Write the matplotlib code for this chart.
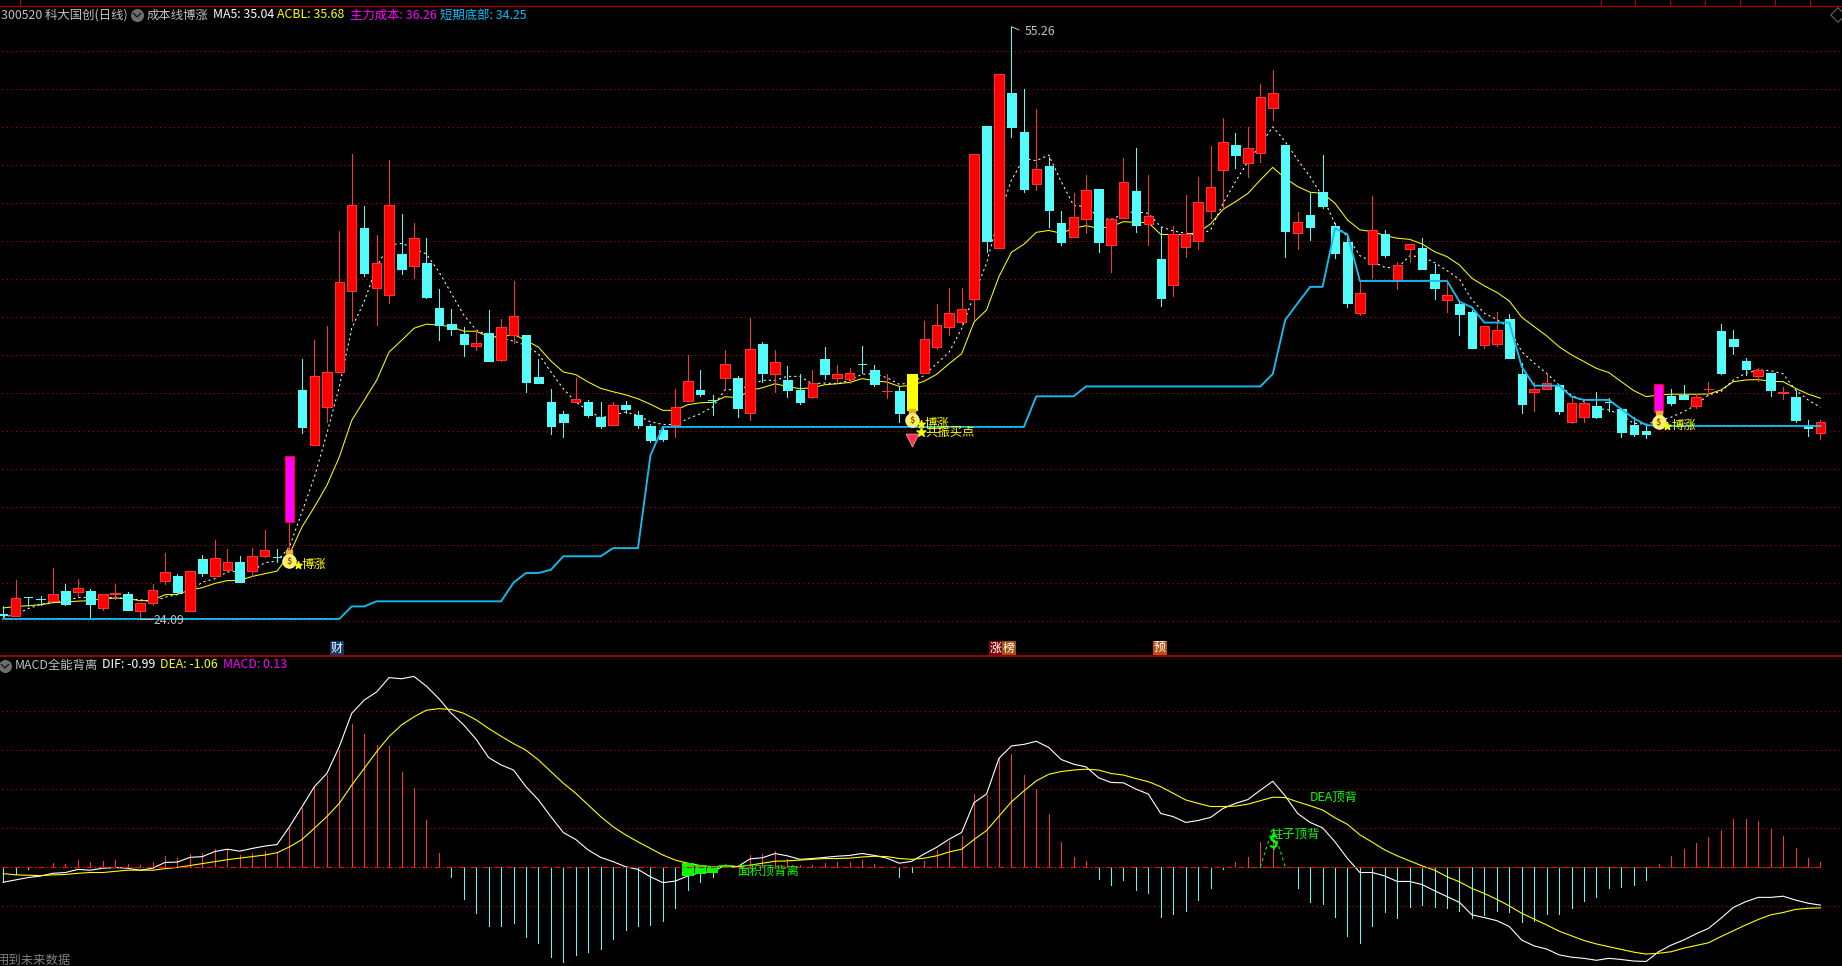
import matplotlib
matplotlib.use('Agg')
import matplotlib.pyplot as plt

plt.rcParams['font.family'] = ['Noto Sans CJK SC', 'DejaVu Sans']

W, H = 1842, 966
PX = 72 / 100.0

opens = [24.35,24.24,25.24,25.14,25.03,25.54,25.49,25.54,24.67,25.39,
25.42,24.51,24.93,26.09,26.37,24.51,27.26,26.35,26.65,27.10,
26.61,27.40,27.34,29.19,36.16,33.25,35.25,37.09,41.37,44.65,
41.53,41.16,43.30,42.68,42.81,40.44,39.60,39.10,38.46,39.14,
37.70,39.02,39.02,36.81,35.53,34.89,35.49,35.53,34.70,34.30,
35.33,34.81,34.23,34.02,34.30,35.56,36.12,35.60,36.77,36.79,
34.93,38.54,36.98,36.68,36.12,35.77,37.79,36.77,36.72,37.53,
37.18,36.10,36.07,35.07,37.04,38.40,39.46,39.72,40.91,50.04,
43.63,51.75,49.70,47.00,47.93,44.91,44.21,45.16,46.72,43.79,
45.21,46.60,44.89,43.02,41.68,43.68,44.00,45.58,47.74,49.04,
48.11,48.64,51.00,49.04,44.41,45.35,46.55,44.78,43.92,40.21,
42.79,44.35,41.88,43.56,43.62,42.23,40.90,40.67,40.23,38.53,
38.56,39.88,36.99,36.06,36.21,36.41,34.48,34.74,35.30,35.53,
35.13,34.28,33.99,35.00,35.83,35.86,35.32,36.20,39.25,38.81,
37.67,36.90,37.02,36.01,35.78,34.30,33.90]

closes = [24.30,25.21,25.24,25.14,25.42,24.86,25.74,24.86,25.42,25.47,
24.56,24.95,25.63,26.58,25.49,26.63,26.49,27.32,27.10,26.02,
27.42,27.74,27.34,32.68,34.19,36.89,37.10,41.81,45.86,42.30,
42.81,45.86,42.53,44.12,41.05,39.54,39.33,38.54,38.61,37.65,
39.44,40.02,36.56,36.51,34.25,34.46,35.68,34.82,34.23,35.37,
35.12,34.30,33.49,33.56,35.26,36.63,35.91,35.60,37.53,35.19,
38.32,37.04,37.63,36.14,35.51,36.53,36.98,37.00,37.05,37.53,
36.44,36.11,34.93,36.97,38.84,39.58,40.21,40.42,48.54,44.00,
52.75,50.00,46.74,47.75,45.61,43.93,45.23,46.65,43.95,45.12,
47.11,44.84,45.28,41.00,44.33,44.33,46.02,46.81,49.18,48.53,
48.86,51.55,51.76,44.51,44.97,44.72,45.83,43.35,40.72,41.23,
44.55,43.25,42.71,43.81,42.53,41.51,41.13,40.14,38.35,39.49,
39.28,37.85,35.42,36.20,36.50,35.06,35.44,35.44,34.72,35.53,
33.93,33.83,33.85,36.46,35.46,35.67,35.76,36.21,37.04,38.48,
37.27,37.18,36.14,36.02,34.55,34.14,34.44]

highs = [24.75,26.16,25.26,25.32,26.79,25.95,26.21,25.68,25.42,25.91,
25.53,24.95,25.91,27.58,26.47,26.63,27.44,28.26,27.75,27.39,
27.84,28.75,27.79,32.68,37.79,38.75,39.51,44.51,48.56,45.82,
44.30,48.25,45.40,44.91,44.12,41.44,40.40,39.47,39.28,40.35,
39.86,41.88,39.02,37.79,36.21,35.02,36.79,35.63,35.51,35.49,
35.54,35.02,34.33,34.19,36.21,37.97,37.18,35.86,38.26,36.90,
39.95,38.68,38.23,37.39,37.00,37.18,38.39,37.44,37.32,38.47,
37.44,36.97,36.33,36.97,39.75,40.65,41.49,41.49,48.54,50.04,
52.75,55.26,52.00,50.91,48.39,45.56,46.49,47.46,46.72,45.18,
48.33,48.86,47.46,44.74,44.77,46.40,47.33,48.98,50.46,49.65,
50.00,52.25,52.98,49.04,45.49,46.53,48.51,44.95,44.34,41.85,
46.35,44.57,42.86,43.81,44.13,42.76,41.76,40.88,40.35,39.49,
40.27,40.13,37.55,36.58,37.06,36.41,35.71,35.65,36.06,35.71,
35.18,34.71,34.30,36.46,36.20,36.41,35.93,36.58,39.62,39.30,
37.83,37.28,37.02,36.28,36.14,34.56,34.56]

lows = [24.19,24.24,24.79,24.82,25.03,24.82,25.24,24.19,24.58,25.16,
24.56,24.09,24.81,25.95,25.42,24.51,26.35,26.35,26.61,26.02,
26.33,27.35,27.09,27.53,33.88,33.25,34.46,37.09,39.79,42.16,
39.56,40.74,42.25,42.05,40.96,38.75,39.02,37.91,38.23,37.65,
37.67,38.61,36.03,36.51,33.81,33.67,35.49,34.72,34.14,34.30,
34.93,34.12,33.39,33.46,33.67,35.56,35.81,34.81,36.25,34.72,
34.54,36.56,36.02,35.77,35.40,35.72,36.70,36.56,36.53,37.04,
36.33,35.72,34.46,34.81,37.04,38.28,39.02,39.54,39.82,43.42,
43.63,49.47,46.58,46.67,44.74,43.77,44.21,44.42,43.42,42.37,
45.21,44.47,43.77,40.58,41.09,43.16,43.58,45.18,45.70,47.84,
47.35,48.16,50.35,43.16,43.58,44.04,45.74,43.09,40.53,40.09,
42.02,43.16,41.46,42.90,42.53,40.93,40.25,39.04,38.35,38.37,
38.46,37.85,34.95,35.06,36.21,34.86,34.42,34.48,34.67,35.06,
33.69,33.74,33.62,34.74,35.37,35.67,35.18,35.88,36.99,38.04,
36.95,36.62,35.85,35.65,34.46,33.72,33.58]

ma5 = [24.19,24.33,24.63,24.86,24.98,25.07,25.21,25.24,25.19,25.24,
25.12,25.11,24.98,25.24,25.37,25.56,26.03,26.21,26.56,26.61,
26.60,27.05,27.14,27.88,29.72,31.56,33.84,36.30,39.39,40.79,
42.63,43.77,43.86,43.60,43.30,42.37,41.23,40.09,39.30,39.02,
38.84,38.72,38.49,38.05,37.09,36.21,35.51,35.07,34.68,34.81,
34.98,34.81,34.46,34.33,34.33,34.63,34.89,35.25,36.16,36.16,
36.39,36.65,36.65,36.86,36.86,36.47,36.51,36.47,36.65,36.97,
37.00,36.79,36.44,36.53,36.91,37.53,38.14,39.37,41.14,42.81,
45.26,47.19,48.33,48.21,48.51,47.11,45.86,45.79,45.26,45.09,
45.44,45.53,45.44,44.74,44.51,44.39,44.30,44.56,45.96,47.11,
48.16,49.04,50.00,49.21,48.25,47.37,46.32,44.88,44.21,43.21,
42.90,42.60,42.55,43.20,43.16,42.85,42.42,41.97,40.88,40.18,
39.86,39.39,38.16,37.55,37.02,36.41,35.88,35.53,35.18,35.09,
34.83,34.39,34.34,34.53,34.71,35.00,35.35,35.88,36.06,36.67,
37.02,37.20,37.16,36.99,36.14,35.62,35.23]

acbl = [24.67,24.75,24.79,24.84,24.95,24.98,25.03,25.05,25.16,25.19,
25.17,25.05,25.07,25.37,25.39,25.61,25.74,25.96,26.11,26.12,
26.33,26.47,26.61,27.49,28.93,29.98,31.12,32.61,34.54,35.60,
36.65,38.14,38.75,39.39,39.61,39.56,39.47,39.24,39.23,38.96,
38.93,39.07,38.75,38.40,37.67,37.09,36.95,36.56,36.23,36.05,
35.89,35.68,35.39,35.07,35.07,35.37,35.47,35.49,35.79,35.74,
36.12,36.26,36.47,36.33,36.21,36.26,36.42,36.47,36.54,36.74,
36.63,36.56,36.33,36.39,36.61,36.97,37.53,38.05,39.72,40.35,
42.11,43.39,43.81,44.44,44.54,44.39,44.65,44.79,44.65,44.74,
45.00,44.96,44.95,44.33,44.32,44.33,44.44,44.88,45.65,46.05,
46.49,47.20,47.86,47.28,46.85,46.55,46.49,45.97,45.09,44.57,
44.48,44.27,44.13,44.07,43.83,43.42,43.16,42.72,42.02,41.62,
41.28,40.83,39.97,39.48,38.99,38.42,37.99,37.64,37.28,37.06,
36.58,36.11,35.79,35.88,35.92,35.92,35.92,35.93,36.14,36.58,
36.67,36.69,36.60,36.58,36.23,35.93,35.71]

short_bottom = [24.09,24.09,24.09,24.09,24.09,24.09,24.09,24.09,24.09,24.09,
24.09,24.09,24.09,24.09,24.09,24.09,24.09,24.09,24.09,24.09,
24.09,24.09,24.09,24.09,24.09,24.09,24.09,24.09,24.75,24.75,
25.02,25.02,25.02,25.02,25.02,25.02,25.02,25.02,25.02,25.02,
25.02,26.00,26.51,26.51,26.68,27.39,27.39,27.39,27.39,27.82,
27.82,27.82,32.70,34.20,34.20,34.20,34.20,34.20,34.20,34.20,
34.20,34.20,34.20,34.20,34.20,34.20,34.20,34.20,34.20,34.20,
34.20,34.20,34.20,34.20,34.20,34.20,34.20,34.20,34.20,34.20,
34.20,34.20,34.20,35.81,35.81,35.81,35.81,36.33,36.33,36.33,
36.33,36.33,36.33,36.33,36.33,36.33,36.33,36.33,36.33,36.33,
36.33,36.33,36.99,39.83,40.71,41.57,41.57,44.65,44.34,41.88,
41.88,41.88,41.88,41.88,41.88,41.88,41.88,40.79,40.49,39.69,
39.69,39.69,37.37,36.37,36.37,36.37,35.79,35.62,35.62,35.62,
35.13,34.65,34.30,34.25,34.25,34.25,34.25,34.25,34.25,34.25,
34.25,34.25,34.25,34.25,34.25,34.25,34.25]

dif = [-0.40,-0.34,-0.28,-0.24,-0.17,-0.15,-0.07,-0.09,-0.04,-0.02,
-0.04,-0.09,-0.04,0.11,0.12,0.24,0.26,0.39,0.45,0.40,
0.47,0.53,0.57,1.03,1.54,2.06,2.40,3.09,3.95,4.29,
4.50,4.87,4.84,4.90,4.65,4.33,3.95,3.65,3.28,2.81,
2.62,2.49,2.06,1.72,1.29,0.88,0.70,0.43,0.24,0.13,
0.00,-0.07,-0.26,-0.41,-0.37,-0.24,-0.15,-0.13,0.04,0.00,
0.20,0.23,0.34,0.28,0.19,0.21,0.24,0.27,0.29,0.34,
0.29,0.22,0.09,0.14,0.33,0.50,0.71,0.88,1.65,1.87,
2.79,3.11,3.15,3.23,3.07,2.76,2.64,2.57,2.29,2.17,
2.16,2.00,1.87,1.37,1.29,1.14,1.19,1.27,1.50,1.63,
1.73,1.97,2.20,1.82,1.37,1.14,1.00,0.64,0.21,-0.15,
-0.15,-0.24,-0.38,-0.38,-0.46,-0.62,-0.77,-0.92,-1.24,-1.31,
-1.39,-1.54,-1.89,-2.04,-2.12,-2.27,-2.33,-2.36,-2.41,-2.36,
-2.39,-2.43,-2.44,-2.19,-2.02,-1.89,-1.73,-1.59,-1.33,-1.05,
-0.90,-0.79,-0.79,-0.76,-0.86,-0.94,-0.99]

dea = [-0.18,-0.21,-0.22,-0.23,-0.21,-0.20,-0.17,-0.15,-0.15,-0.12,
-0.09,-0.09,-0.09,-0.05,-0.02,0.03,0.08,0.13,0.18,0.22,
0.26,0.30,0.36,0.51,0.70,0.99,1.29,1.63,2.10,2.53,
2.96,3.35,3.65,3.86,4.03,4.07,4.05,3.95,3.78,3.56,
3.36,3.17,3.00,2.75,2.45,2.15,1.89,1.59,1.29,1.03,
0.82,0.64,0.47,0.30,0.17,0.09,0.03,0.00,0.00,0.00,
0.04,0.09,0.14,0.15,0.17,0.19,0.21,0.21,0.22,0.25,
0.27,0.26,0.21,0.19,0.22,0.28,0.38,0.45,0.70,0.93,
1.30,1.67,1.95,2.21,2.38,2.45,2.49,2.51,2.49,2.40,
2.36,2.27,2.19,2.06,1.89,1.72,1.63,1.55,1.55,1.56,
1.61,1.70,1.79,1.78,1.67,1.57,1.46,1.26,1.09,0.82,
0.63,0.43,0.28,0.15,0.02,-0.09,-0.26,-0.39,-0.56,-0.69,
-0.84,-1.01,-1.20,-1.35,-1.50,-1.66,-1.78,-1.90,-1.99,-2.06,
-2.13,-2.20,-2.25,-2.23,-2.19,-2.10,-2.03,-1.96,-1.80,-1.65,
-1.50,-1.36,-1.24,-1.18,-1.10,-1.07,-1.06]

macd = [-0.40,-0.19,-0.05,0.00,0.09,0.07,0.17,0.12,0.15,0.17,
0.07,0.04,0.12,0.27,0.23,0.33,0.36,0.45,0.45,0.30,
0.34,0.40,0.36,1.00,1.50,2.06,2.36,3.00,3.67,3.43,
3.13,3.11,2.44,2.02,1.20,0.36,-0.26,-0.82,-1.18,-1.54,
-1.54,-1.44,-1.80,-1.97,-2.33,-2.45,-2.27,-2.19,-2.12,-1.86,
-1.63,-1.53,-1.50,-1.39,-1.06,-0.60,-0.39,-0.26,0.02,0.00,
0.30,0.33,0.40,0.21,0.04,0.04,0.09,0.12,0.12,0.17,
0.07,-0.02,-0.26,-0.13,0.15,0.43,0.67,0.79,1.87,1.84,
2.81,2.90,2.36,1.99,1.36,0.63,0.25,0.15,-0.32,-0.47,
-0.34,-0.60,-0.67,-1.29,-1.22,-1.14,-0.86,-0.55,-0.05,0.12,
0.25,0.63,0.64,0.00,-0.55,-0.91,-0.96,-1.29,-1.78,-1.96,
-1.54,-1.16,-1.32,-1.03,-0.99,-1.04,-1.06,-1.13,-1.33,-1.24,
-1.13,-1.17,-1.42,-1.39,-1.22,-1.22,-1.06,-0.88,-0.77,-0.55,
-0.52,-0.47,-0.34,0.07,0.27,0.45,0.62,0.76,0.94,1.23,
1.23,1.18,0.97,0.79,0.48,0.22,0.13]

price_grid = [54,52,50,48,46,44,42,40,38,36,34,32,30,28,26,24]
macd_grid = [4,3,2,1,-1]
magenta_days = [23,133]
yellow_days = [73]
bag_days = [23,73,133]
bag_prices = [27.14,34.56,34.46]

# green area-divergence blocks in the MACD pane
green_days = [55,56,57,58,59]
green_tops = [0.10,0.04,0.02,0.04,0.00]
green_bottoms = [-0.23,-0.19,-0.15,0.00,-0.03]
pillar_days = [101,102,103]
pillar_vals = [0.00,1.00,0.00]
tab_edges = [20,1601,1635,1670,1705,1740,1775,1810]

RED = '#FF0000'
RED_LINE = '#FF3232'
CYAN = '#54FCFC'
BLUE = '#14BDF0'
GRID = '#C00000'
GRAY = '#C0C0C0'

n = len(closes)
days = list(range(n))


def ptext(x, y, s, color, size=8.9, **kw):
    # header and footer text sits at screen pixels
    fig.text(x / W, 1 - y / H, s, color=color, fontsize=size, va='center', ha='left', **kw)


def badge(x, y, s, bg):
    fig.text(x / W, 1 - y / H, s, color='white', fontsize=8.6, va='center', ha='center',
             bbox=dict(boxstyle='square,pad=0.08', facecolor=bg, edgecolor='none'))


fig = plt.figure(figsize=(W / 100, H / 100), dpi=100, facecolor='black')

# x(i) = 3.2 + 12.447 i, y(p) = 50.7 + (54 - p) * 19
xlim = (-3.2 / 12.447, (W - 3.2) / 12.447)
ax = fig.add_axes([0, 1 - 656 / H, 1, 650 / H], facecolor='black')
ax.set_xlim(*xlim)
ax.set_ylim(54 - (656 - 50.7) / 19, 54 + (50.7 - 6) / 19)
ax.axis('off')

for p in price_grid:
    ax.plot([xlim[0] + 0.2, xlim[1]], [p, p], color=GRID, lw=PX, linestyle=(0, (1, 3.5)), zorder=1)

ax.plot(days, acbl, color='#FFFF00', lw=0.75, zorder=2)
ax.plot(days, ma5, color='white', lw=0.75, linestyle=(0, (2, 3)), zorder=2)

for i in days:
    up = closes[i] > opens[i]
    wick = RED_LINE if up else CYAN
    if i in yellow_days:
        wick = '#FFFF00'
    ax.vlines(i, lows[i], highs[i], color=wick, lw=PX, zorder=3, antialiased=False)
    top = max(opens[i], closes[i])
    bot = min(opens[i], closes[i])
    if i in magenta_days:
        face, edge, bw = '#FF00FF', RED, 0.76
    elif i in yellow_days:
        face, edge, bw = '#FFFF00', '#FFFF00', 0.76
    elif up:
        face, edge, bw = RED, RED_LINE, 0.76
    else:
        face, edge, bw = CYAN, CYAN, 0.68
    ax.bar(i, top - bot, bottom=bot, width=bw, color=face, edgecolor=edge, lw=PX,
           zorder=4, antialiased=False)

ax.plot(days, short_bottom, color=BLUE, lw=1.35, zorder=5)

# high and low marks
ax.plot([81, 81.6], [55.26, 55.1], color=GRAY, lw=PX, zorder=6)
ax.text(82.1, 55.02, '55.26', color=GRAY, fontsize=8.9, va='center', ha='left', zorder=6)
ax.plot([11, 12], [24.09, 24.09], color=GRAY, lw=PX, zorder=6)
ax.text(12.05, 24.03, '24.09', color=GRAY, fontsize=8.9, va='center', ha='left', zorder=6)

# money bags
for d, p in zip(bag_days, bag_prices):
    ax.scatter([d], [p + 0.42], s=14, marker='s', color='#E8B020', zorder=7)
    ax.scatter([d], [p], s=95, color='#FFF060', edgecolor='#FFFFD0', lw=0.6, zorder=7)
    ax.text(d, p - 0.03, '$', color='#805000', fontsize=6.5, fontweight='bold',
            va='center', ha='center', zorder=8)
    ax.scatter([d + 0.7], [p - 0.2], s=30, marker='*', color='#FFFF00', zorder=8)
    ax.text(d + 1.0, p - 0.2, '博涨', color='#FFFF00', fontsize=8.9, va='center', ha='left', zorder=8)

ax.scatter([73], [33.51], s=85, marker='v', color='#FF3050', edgecolor='#FF90A0', lw=0.6, zorder=7)
ax.scatter([73.75], [33.92], s=45, marker='*', color='#FFFF00', zorder=8)
ax.text(74.1, 33.92, '共振买点', color='#FFFF00', fontsize=8.9, va='center', ha='left', zorder=8)

# MACD pane
ax2 = fig.add_axes([0, 1 - 966 / H, 1, (966 - 656.5) / H], facecolor='black')
ax2.set_xlim(*xlim)
ax2.set_ylim(-(966 - 866.7) / 38.83, (866.7 - 656.5) / 38.83)
ax2.axis('off')

for v in macd_grid:
    ax2.plot([xlim[0] + 0.2, xlim[1]], [v, v], color=GRID, lw=PX, linestyle=(0, (1, 3.5)), zorder=1)

for i in days:
    ax2.vlines(i, 0, macd[i], color=RED_LINE if macd[i] > 0 else CYAN, lw=PX, zorder=2,
               antialiased=False)

ax2.plot(pillar_days, pillar_vals, color='#00FF00', lw=PX, linestyle=(0, (3, 3)), zorder=3)
ax2.plot([100, 146], [0, 0], color='#00FF00', lw=PX, linestyle=(0, (1, 3)), zorder=3)

ax2.plot(days, dif, color='white', lw=0.8, zorder=5)
ax2.plot(days, dea, color='#FFFF00', lw=0.8, zorder=5)

for d, t, b in zip(green_days, green_tops, green_bottoms):
    ax2.bar(d, t - b, bottom=b, width=0.92, color='#00FF00', zorder=6, antialiased=False)

ax2.plot([xlim[0] + 0.2, 146], [0, 0], color='#FF0000', lw=PX * 1.2, linestyle=(0, (5, 2, 1, 2)), zorder=7)

ax2.text(58.95, -0.15, '面积顶背离', color='#00FF00', fontsize=8.9, va='center', ha='left', zorder=8)
ax2.text(105, 1.80, 'DEA顶背', color='#00FF00', fontsize=8.9, va='center', ha='left', zorder=8)
ax2.text(101.8, 0.84, '柱子顶背', color='#00FF00', fontsize=8.9, va='center', ha='left', zorder=8)
ax2.text(102, 0.62, '$', color='#00FF00', fontsize=12, fontweight='bold', va='center', ha='center', zorder=8)

# frame lines
overlay = fig.add_axes([0, 0, 1, 1], facecolor='none')
overlay.set_xlim(0, W)
overlay.set_ylim(H, 0)
overlay.axis('off')
overlay.plot([0, W], [5.5, 5.5], color='#B00000', lw=PX * 1.2)
for t in tab_edges:
    overlay.plot([t, t], [0, 5.5], color='#B00000', lw=PX)
overlay.plot([0, W], [656.3, 656.3], color='#D00000', lw=PX * 1.5)
overlay.scatter([137, 5], [15, 666], s=70, color='#6E6E6E', zorder=3)
overlay.plot([133.5, 137, 140.5], [13.5, 17, 13.5], color='#1A1A1A', lw=1.0, zorder=4)
overlay.plot([1.5, 5, 8.5], [664.5, 668, 664.5], color='#1A1A1A', lw=1.0, zorder=4)
overlay.scatter([1838], [15], s=55, marker='D', facecolor='none', edgecolor='#707070', lw=0.7)

ptext(1, 15, '300520 科大国创(日线)', GRAY)
ptext(147, 15, '成本线博涨', GRAY)
ptext(213, 15, 'MA5: 35.04', 'white')
ptext(277, 15, 'ACBL: 35.68', '#FFFF00')
ptext(350, 15, '主力成本: 36.26', '#FF00FF')
ptext(440, 15, '短期底部: 34.25', '#00BFFF')

ptext(15, 665, 'MACD全能背离', GRAY)
ptext(102, 665, 'DIF: -0.99', 'white')
ptext(160, 665, 'DEA: -1.06', '#FFFF00')
ptext(223, 665, 'MACD: 0.13', '#FF00FF')
ptext(-3, 960, '用到未来数据', '#808080')

badge(337, 648, '财', '#103A6A')
badge(996, 648, '涨', '#7A0A10')
badge(1009, 648, '榜', '#A05010')
badge(1160, 648, '预', '#B85010')

fig.savefig('out.png', dpi=100, facecolor='black')
